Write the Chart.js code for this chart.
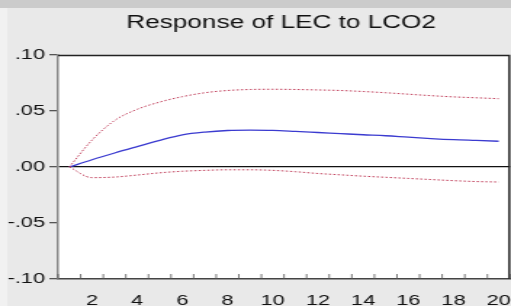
<!DOCTYPE html>
<html>
<head>
<meta charset="utf-8">
<script src="https://cdn.jsdelivr.net/npm/chart.js@4.4.1/dist/chart.umd.min.js"></script>
<style>
  html, body { margin: 0; padding: 0; background: #e9e9e9; overflow: hidden; }
  #wrap { width: 511px; height: 306px; position: relative; overflow: hidden; }
  /* la figura original está estirada en horizontal */
  #c { position: absolute; left: 0; top: 0; transform: scaleX(1.4517); transform-origin: 0 0; }
</style>
</head>
<body>
<div id="wrap"><canvas id="c" width="352" height="306"></canvas></div>
<script>
'use strict';

// ─── Datos ───────────────────────────────────────────────────────────────────
const periodos = [1, 2, 3, 4, 5, 6, 7, 8, 9, 10, 11, 12, 13, 14, 15, 16, 17, 18, 19, 20];

const respuesta = [0.000, 0.0065, 0.0125, 0.0182, 0.0238, 0.0287, 0.0312, 0.0326, 0.0329, 0.0327,
                   0.0318, 0.0308, 0.0298, 0.0288, 0.0279, 0.0266, 0.0254, 0.0244, 0.0237, 0.0230];
const bandaSup  = [0.000, 0.0240, 0.0415, 0.0515, 0.0580, 0.0628, 0.0663, 0.0683, 0.0692, 0.0694,
                   0.0692, 0.0688, 0.0683, 0.0674, 0.0663, 0.0650, 0.0637, 0.0626, 0.0618, 0.0610];
const bandaInf  = [0.000, -0.0095, -0.0090, -0.0072, -0.0052, -0.0038, -0.0030, -0.0025, -0.0025, -0.0030,
                   -0.0042, -0.0058, -0.0070, -0.0082, -0.0092, -0.0102, -0.0112, -0.0122, -0.0130, -0.0134];

const yTicks = [-0.10, -0.05, 0.00, 0.05, 0.10];
const yEtiquetas = ['-.10', '-.05', '.00', '.05', '.10'];

const TITULO = 'Response of LEC to LCO2';
const FUENTE = "'Liberation Sans', Arial, sans-serif";

// ─── Plugins: fondo, título, marco y marcas internas del eje X ──────────────
const fondo = {
  id: 'fondo',
  beforeDraw(chart) {
    const { ctx, chartArea: a, width, height } = chart;
    ctx.save();
    ctx.fillStyle = '#e9e9e9';
    ctx.fillRect(0, 0, width, height);
    ctx.fillStyle = '#cbcbcb';
    ctx.fillRect(0, 0, width, 8);
    ctx.fillStyle = '#f1f1f1';
    ctx.fillRect(0, 8, 5, height - 8);
    ctx.fillStyle = '#ffffff';
    ctx.fillRect(a.left, a.top, a.right - a.left, a.bottom - a.top);
    ctx.restore();
  },
  afterDraw(chart) {
    const { ctx, chartArea: a, scales } = chart;
    ctx.save();
    // título centrado sobre el área del gráfico
    ctx.fillStyle = '#111';
    ctx.font = `18px ${FUENTE}`;
    ctx.textAlign = 'center';
    ctx.textBaseline = 'alphabetic';
    ctx.fillText(TITULO, (a.left + a.right) / 2 - 2, 28);
    // marco superior y derecho
    ctx.strokeStyle = '#222';
    ctx.lineWidth = 1.4;
    ctx.beginPath();
    ctx.moveTo(a.left, a.top + 0.5);
    ctx.lineTo(a.right - 0.5, a.top + 0.5);
    ctx.lineTo(a.right - 0.5, a.bottom);
    ctx.stroke();
    // marcas del eje X hacia dentro, entre categorías
    const x = scales.x;
    const paso = x.getPixelForValue(1) - x.getPixelForValue(0);
    ctx.strokeStyle = '#555';
    ctx.lineWidth = 0.8;
    ctx.beginPath();
    for (let i = 0; i <= periodos.length; i++) {
      const px = x.getPixelForValue(i) - paso / 2;
      ctx.moveTo(px, a.bottom);
      ctx.lineTo(px, a.bottom - 5);
    }
    ctx.stroke();
    ctx.restore();
  }
};

// ─── Gráfico ─────────────────────────────────────────────────────────────────
const lineaBanda = (data) => ({
  data,
  borderColor: '#c2405c',
  borderWidth: 1,
  borderDash: [1.5, 1.5],
  pointRadius: 0,
  cubicInterpolationMode: 'monotone',
  fill: false,
});

new Chart(document.getElementById('c'), {
  type: 'line',
  data: {
    labels: periodos,
    datasets: [
      lineaBanda(bandaSup),
      lineaBanda(bandaInf),
      {
        data: respuesta,
        borderColor: '#3b3bd0',
        borderWidth: 1.3,
        pointRadius: 0,
        cubicInterpolationMode: 'monotone',
        fill: false,
      },
    ],
  },
  options: {
    responsive: false,
    animation: false,
    layout: { padding: { left: 0, right: 0.7, top: 55, bottom: 0 } },
    plugins: {
      legend: { display: false },
      tooltip: { enabled: false },
      title: { display: false },
    },
    scales: {
      x: {
        type: 'category',
        offset: true,
        grid: { display: false, drawTicks: false },
        border: { display: true, color: '#444', width: 1.5 },
        ticks: {
          autoSkip: false,
          maxRotation: 0,
          padding: 13,
          color: '#111',
          font: { family: FUENTE, size: 15 },
          callback: (v, i) => (periodos[i] % 2 === 0 ? String(periodos[i]) : ''),
        },
        afterFit: (s) => { s.height = 27; s.paddingLeft = 0; s.paddingRight = 0; },
      },
      y: {
        min: -0.10,
        max: 0.10,
        afterBuildTicks: (s) => { s.ticks = yTicks.map(v => ({ value: v })); },
        grid: {
          drawOnChartArea: true,
          color: (c) => (c.tick && Math.abs(c.tick.value) < 1e-9 ? '#111' : 'rgba(0,0,0,0)'),
          lineWidth: 1.3,
          tickLength: 6,
          tickColor: '#555',
        },
        border: { display: true, color: '#888', width: 1.5 },
        ticks: {
          padding: 3,
          color: '#111',
          font: { family: FUENTE, size: 15 },
          callback: (v) => yEtiquetas[yTicks.findIndex(t => Math.abs(t - v) < 1e-9)],
        },
        afterFit: (s) => { s.width = 40; },
      },
    },
  },
  plugins: [fondo],
});
</script>
</body>
</html>
